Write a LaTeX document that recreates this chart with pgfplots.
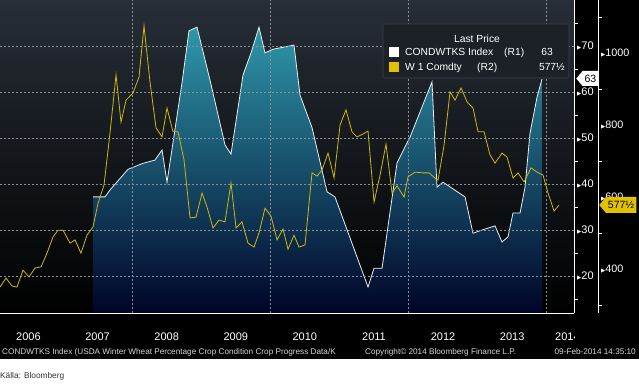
\documentclass[border=0pt]{standalone}
\usepackage{pgfplots}
\pgfplotsset{compat=1.18}
\usepackage{pgfplotstable}
\usepackage{fontspec}
\setmainfont{Liberation Sans}
\newfontfamily\symfont{DejaVu Sans}
\usetikzlibrary{shapes.symbols}
\definecolor{bgtop}{HTML}{272E37}
\definecolor{gridc}{HTML}{8A9099}
\definecolor{areatop}{HTML}{2E97AA}
\definecolor{areamid}{HTML}{0B4769}
\definecolor{areabot}{HTML}{000428}
\definecolor{wheat}{HTML}{CDB80F}
\definecolor{condline}{HTML}{E8EEF4}
\definecolor{legbg}{HTML}{1C2127}
\definecolor{legborder}{HTML}{3C424A}
\definecolor{sepc}{HTML}{9A9A9A}
\definecolor{tagyellow}{HTML}{E2C200}
\definecolor{foot}{HTML}{D6D6D6}

\pgfplotstableread{
year cond
2007.434 37.2
2007.608 37.2
2007.680 38.7
2007.941 43.2
2008.158 44.5
2008.331 45.2
2008.433 47.4
2008.505 40.4
2008.722 62.0
2008.823 73.3
2008.939 74.1
2009.127 62.6
2009.344 48.5
2009.431 46.5
2009.605 63.7
2009.721 68.5
2009.836 74.1
2009.923 68.5
2010.039 69.3
2010.343 70.2
2010.430 59.3
2010.603 52.3
2010.821 38.3
2010.936 37.2
2011.414 17.6
2011.501 21.7
2011.617 21.7
2011.834 44.6
2012.022 50.2
2012.340 62.2
2012.412 39.3
2012.499 40.4
2012.818 37.2
2012.933 29.3
2013.064 30.0
2013.252 30.9
2013.353 27.4
2013.440 28.5
2013.512 33.7
2013.614 33.7
2013.686 39.3
2013.758 51.0
2013.860 58.9
2013.932 62.8
}\condtable

\pgfplotstableread{
year price
2006.088 350
2006.175 375
2006.262 353
2006.334 350
2006.421 397
2006.508 378
2006.595 403
2006.682 406
2006.768 444
2006.855 489
2006.928 508
2007.000 508
2007.101 472
2007.174 481
2007.260 444
2007.347 494
2007.434 517
2007.507 583
2007.593 633
2007.680 778
2007.767 939
2007.839 808
2007.912 869
2008.013 889
2008.100 933
2008.172 1075
2008.259 919
2008.346 792
2008.433 767
2008.505 847
2008.592 781
2008.664 781
2008.751 703
2008.838 542
2008.925 544
2009.012 611
2009.084 572
2009.171 514
2009.258 536
2009.344 531
2009.431 639
2009.504 514
2009.590 531
2009.677 472
2009.764 461
2009.836 500
2009.923 569
2010.010 547
2010.097 481
2010.184 511
2010.256 455
2010.343 494
2010.415 461
2010.502 467
2010.603 667
2010.676 658
2010.748 675
2010.835 722
2010.922 653
2011.009 800
2011.095 842
2011.182 781
2011.255 767
2011.342 775
2011.414 783
2011.501 586
2011.588 661
2011.674 747
2011.761 611
2011.834 631
2011.935 600
2011.993 656
2012.094 669
2012.210 667
2012.297 667
2012.398 650
2012.427 647
2012.514 744
2012.601 892
2012.673 869
2012.760 903
2012.847 864
2012.933 847
2013.006 781
2013.093 781
2013.179 717
2013.252 694
2013.353 722
2013.425 711
2013.512 653
2013.585 667
2013.671 642
2013.773 681
2013.860 669
2013.946 661
2014.019 611
2014.106 561
2014.178 577.5
}\wheattable

\begin{document}
\begin{tikzpicture}
\path[use as bounding box] (0pt,0pt) rectangle (639pt,383pt);
\fill[white] (0pt,0pt) rectangle (639pt,383pt);
\fill[black] (0pt,24pt) rectangle (639pt,383pt);

\begin{axis}[
  at={(0pt,70pt)}, anchor=south west,
  width=574pt, height=313pt, scale only axis,
  xmin=2006.088, xmax=2014.395, ymin=11.96, ymax=80,
  axis background/.style={top color=bgtop, bottom color=black},
  axis on top,
  axis x line*=bottom, axis y line*=right,
  axis line style={white, line width=0.9pt},
  /pgf/number format/assume math mode=true,
  /pgf/number format/1000 sep={},
  xtick={2006.5,2007.5,2008.5,2009.5,2010.5,2011.5,2012.5,2013.5,2014.30},
  xticklabels={2006,2007,2008,2009,2010,2011,2012,2013,2014},
  xtick style={draw=none},
  xticklabel style={font=\fontsize{11}{12}\selectfont, white, anchor=base, yshift=-27pt},
  extra x ticks={2007,2008,2009,2010,2011,2012,2013,2014},
  extra x tick labels={},
  extra x tick style={tick style={draw=sepc, line width=0.6pt}, major tick length=29pt, tick align=outside},
  ytick={20,30,40,50,60,70},
  minor ytick={15,25,35,45,55,65,75},
  major tick length=0pt, minor tick length=4pt, tick align=outside,
  ytick style={white, line width=0.6pt},
  yticklabel={{\symfont\fontsize{5.5}{6}\selectfont ▶}\pgfmathprintnumber{\tick}},
  yticklabel style={font=\fontsize{11}{12}\selectfont, white, inner sep=0pt, xshift=3pt},
  ymajorgrids,
  grid style={gridc, dash pattern=on 2pt off 2pt, line width=0.5pt},
]
\addplot[draw=none, top color=areatop, middle color=areamid, bottom color=areabot] table[x=year,y=cond]{\condtable} \closedcycle;
\addplot[condline, line width=0.8pt] table[x=year,y=cond]{\condtable};
\draw[gridc, dash pattern=on 2pt off 2pt, line width=0.5pt] (2008,11.96) -- (2008,80) (2010,11.96) -- (2010,80) (2012,11.96) -- (2012,80) (2014,11.96) -- (2014,80);
\end{axis}

\fill[black] (575pt,37pt) rectangle (639pt,69.5pt);

\begin{axis}[
  at={(0pt,70pt)}, anchor=south west,
  width=598pt, height=313pt, scale only axis,
  xmin=2006.088, xmax=2014.742, ymin=278, ymax=1147,
  axis x line=none, axis y line*=right,
  axis line style={white, line width=0.9pt},
  /pgf/number format/assume math mode=true,
  /pgf/number format/1000 sep={},
  ytick={400,600,800,1000},
  minor ytick={300,500,700,900,1100},
  major tick length=0pt, minor tick length=4pt, tick align=outside,
  ytick style={white, line width=0.6pt},
  yticklabel={{\symfont\fontsize{5.5}{6}\selectfont ▶}\pgfmathprintnumber{\tick}},
  yticklabel style={font=\fontsize{10.8}{12}\selectfont, white, inner sep=0pt, xshift=3pt},
]
\addplot[wheat, line width=0.8pt] table[x=year,y=price]{\wheattable};
\end{axis}

% legend box
\fill[legbg, draw=legborder, line width=0.6pt, rounded corners=1.5pt] (383pt,305pt) rectangle (569pt,359pt);
\node[white, font=\fontsize{10.3}{12}\selectfont, anchor=base] at (477pt,340pt) {Last Price};
\fill[white] (389pt,326pt) rectangle (399pt,336pt);
\node[white, font=\fontsize{10.3}{12}\selectfont, anchor=base west, inner sep=0pt] at (405pt,327pt) {CONDWTKS Index};
\node[white, font=\fontsize{10.3}{12}\selectfont, anchor=base west, inner sep=0pt] at (504pt,327pt) {(R1)};
\node[white, font=\fontsize{10.3}{12}\selectfont, anchor=base east, inner sep=0pt] at (553pt,327pt) {63};
\fill[tagyellow] (389pt,311pt) rectangle (399pt,321pt);
\node[white, font=\fontsize{10.3}{12}\selectfont, anchor=base west, inner sep=0pt] at (405pt,312pt) {W 1 Comdty};
\node[white, font=\fontsize{10.3}{12}\selectfont, anchor=base west, inner sep=0pt] at (477pt,312pt) {(R2)};
\node[white, font=\fontsize{10.3}{12}\selectfont, anchor=base east, inner sep=0pt] at (565pt,312pt) {577½};

% last value tags
\node[signal, signal to=west, signal pointer angle=100, fill=white, text=black, inner xsep=2pt, inner ysep=1pt, minimum height=15pt, anchor=west, font=\fontsize{10.5}{12}\selectfont] at (576pt,304.5pt) {63};
\node[signal, signal to=west, signal pointer angle=100, fill=tagyellow, text=black, inner xsep=2pt, inner ysep=1pt, minimum height=16pt, anchor=west, font=\fontsize{10.5}{12}\selectfont] at (599pt,178pt) {577½};

% footer
\node[foot, font=\fontsize{8.2}{9}\selectfont, anchor=base west, inner sep=0pt] at (2pt,29pt) {CONDWTKS Index (USDA Winter Wheat Percentage Crop Condition Crop Progress Data/K};
\node[foot, font=\fontsize{8.2}{9}\selectfont, anchor=base west, inner sep=0pt] at (365pt,29pt) {Copyright© 2014 Bloomberg Finance L.P.};
\node[foot, font=\fontsize{8.2}{9}\selectfont, anchor=base east, inner sep=0pt] at (636pt,29pt) {09-Feb-2014 14:35:10};
\node[black!80, font=\fontsize{8.3}{10}\selectfont, anchor=base west, inner sep=0pt] at (0pt,5pt) {Källa: Bloomberg};
\end{tikzpicture}
\end{document}
